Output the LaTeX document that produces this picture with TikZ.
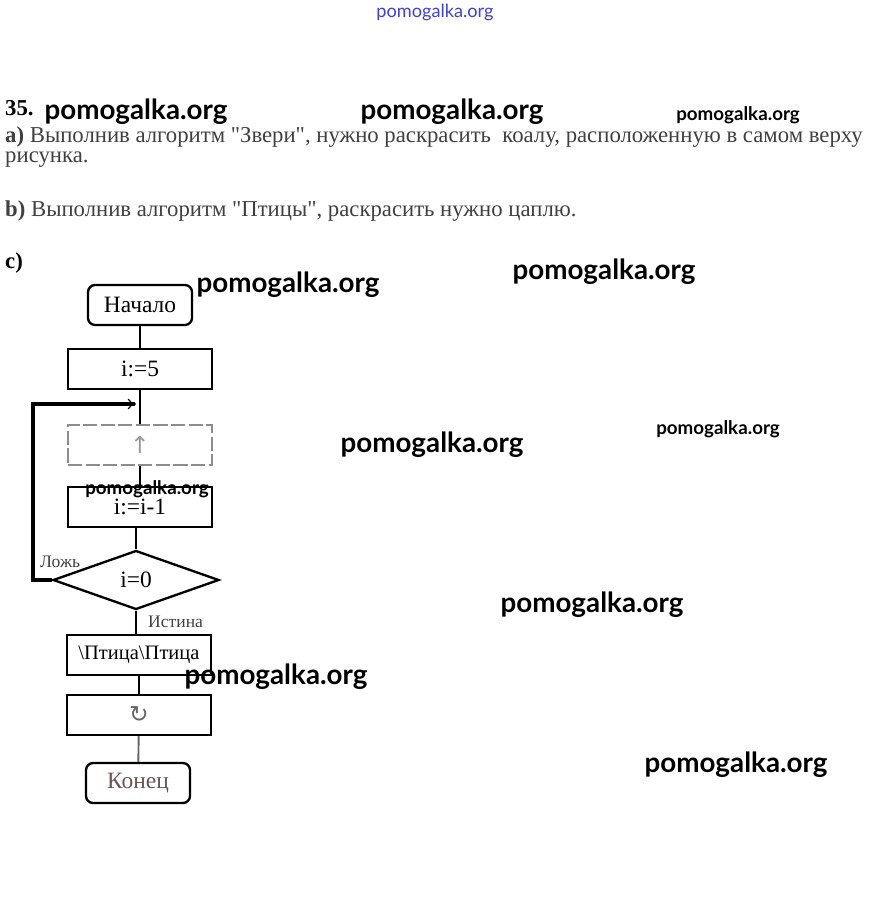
\documentclass[tikz,border=0pt]{standalone}
\usepackage{fontspec}
\setmainfont{Liberation Serif}[Ligatures=TeXOff]
\newfontfamily\wmfont{Lato}
\newfontfamily\symfont{DejaVu Sans}
\usetikzlibrary{shapes.geometric,arrows.meta}

\definecolor{scangray}{rgb}{0.25,0.25,0.25}
\definecolor{endbrown}{rgb}{0.42,0.33,0.33}
\definecolor{wmblue}{rgb}{0.25,0.25,0.85}

\tikzset{
  txt/.style={anchor=west,inner sep=0pt,font=\fontsize{19.4}{22}\selectfont,text=scangray},
  wmbig/.style={font=\wmfont\bfseries\fontsize{23.7}{24}\selectfont,inner sep=0pt},
  wmsmall/.style={font=\wmfont\bfseries\fontsize{16}{16}\selectfont,inner sep=0pt},
  box/.style={draw,line width=2pt,minimum width=4.32cm,minimum height=1.2cm,inner sep=0pt,font=\fontsize{20}{22}\selectfont},
  term/.style={box,rounded corners=6pt,minimum width=3.12cm},
  cond/.style={draw,diamond,aspect=2.8,line width=2pt,minimum width=4.98cm,minimum height=1.77cm,inner sep=0pt,font=\fontsize{20}{22}\selectfont},
  flow/.style={line width=1.6pt},
  back/.style={line width=2.6pt},
  lbl/.style={inner sep=0pt,font=\fontsize{15}{17}\selectfont,text=scangray}
}

\begin{document}
\begin{tikzpicture}[x=0.03cm,y=-0.03cm]
  \useasboundingbox (0,0) rectangle (869,899);

  % task text
  \node[txt,text=black] (num) at (5,108) {\textbf{35.}};
  \node[txt] (ta) at (5,137) {\textbf{a)} Выполнив алгоритм "Звери", нужно раскрасить \ коалу, расположенную в самом верху};
  \node[txt] (ta2) at (5,160) {рисунка.};
  \node[txt] (tb) at (5,211) {\textbf{b)} Выполнив алгоритм "Птицы", раскрасить нужно цаплю.};
  \node[txt,text=black] (tc) at (5,263) {\textbf{c)}};

  % flowchart
  \node[term] (start) at (140,305) {Начало};
  \node[box] (init) at (140,369) {i:=5};
  \node[box,draw=black!45,dash pattern=on 12pt off 3pt] (hidden) at (140,445) {\textcolor{black!40}{\symfont ↑}};
  \node[box] (dec) at (140,507) {i:=i-1};
  \node[cond] (test) at (136,580) {i=0};
  \node[box,font=\fontsize{17.5}{19}\selectfont] (bird) at (139,655) {\textbackslash Птица\textbackslash Птица};
  \node[box] (turn) at (139,715) {\textcolor{black!60}{\symfont ↻}};
  \node[term,text=endbrown] (stop) at (138,783) {Конец};

  \coordinate (loopin) at (136,404);
  \coordinate (back) at (33,580);

  \draw[flow] (start) -- (init);
  \draw[flow] (init) -- (hidden);
  \draw[flow] (hidden) -- (dec);
  \draw[flow] (dec.south -| test.north) -- (test.north);
  \draw[flow] (test.south) -- (bird.north -| test.south);
  \draw[flow] (bird) -- (turn);
  \draw[flow,black!60] (turn) -- (stop);
  \draw[back,-{To[length=7pt,width=9pt,line width=1pt]}] (test.west) -- (back) |- (loopin);

  \node[lbl,anchor=south west] (no) at (40,568) {Ложь};
  \node[lbl,anchor=south west] (yes) at (148,628) {Истина};

  % watermarks
  \node[font=\wmfont\fontsize{15.5}{16}\selectfont,text=wmblue,inner sep=0pt] (w0) at (435,12) {pomogalka.org};
  \node[wmbig] (w1) at (136,112) {pomogalka.org};
  \node[wmbig] (w2) at (452,112) {pomogalka.org};
  \node[wmsmall] (w3) at (738,115) {pomogalka.org};
  \node[wmbig] (w4) at (288,285) {pomogalka.org};
  \node[wmbig] (w5) at (604,272) {pomogalka.org};
  \node[wmbig] (w6) at (432,445) {pomogalka.org};
  \node[wmsmall] (w7) at (718,429) {pomogalka.org};
  \node[wmsmall] (w8) at (147,489) {pomogalka.org};
  \node[wmbig] (w9) at (592,605) {pomogalka.org};
  \node[wmbig] (w10) at (276,677) {pomogalka.org};
  \node[wmbig] (w11) at (736,765) {pomogalka.org};
\end{tikzpicture}
\end{document}
